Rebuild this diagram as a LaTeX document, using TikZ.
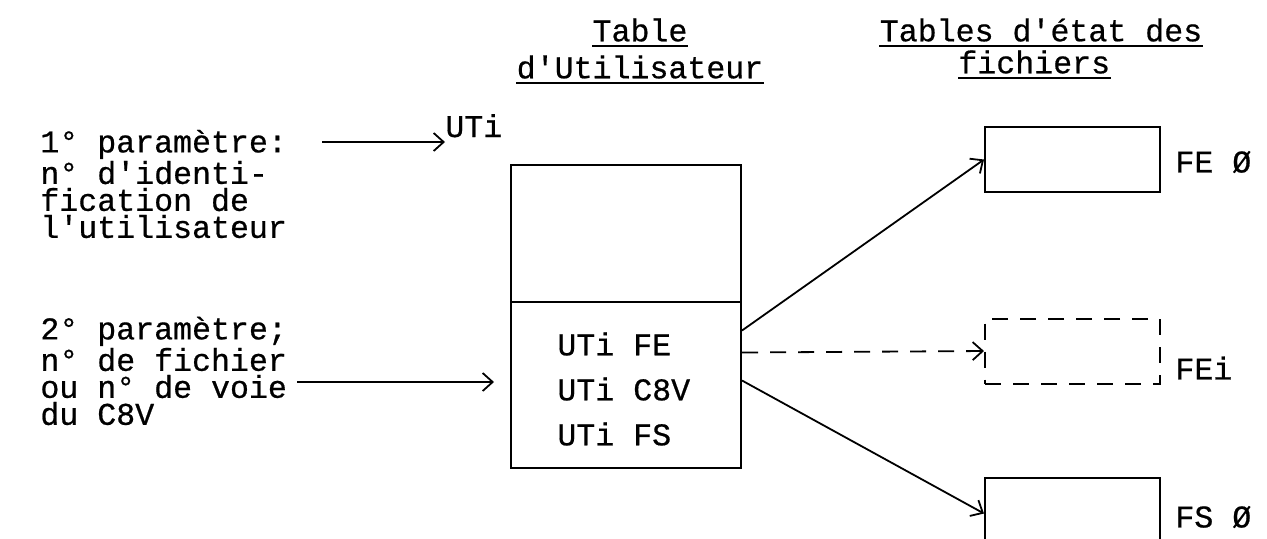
\documentclass[tikz,border=0pt]{standalone}
\usepackage{fontspec}
\setmonofont{Liberation Mono}[UprightFeatures={FakeBold=0.6}]
\usetikzlibrary{arrows.meta}

\begin{document}
\begin{tikzpicture}[x=0.5pt, y=-0.5pt,
    font=\ttfamily\fontsize{15.8}{13.5}\selectfont,
    >={Straight Barb[length=5pt,width=9pt]},
    every node/.style={inner sep=0pt},
    tablebox/.style={draw, line width=1pt, minimum width=87.5pt, minimum height=32.5pt},
    link/.style={->, line width=0.9pt},
    uline/.style={line width=1pt}]
  \useasboundingbox (0,0) rectangle (1267,538);
  % headings
  \node (hd1) at (640,30) {Table};
  \node (hd2) at (640,67) {d'Utilisateur};
  \node (hd3) at (1041,30) {Tables d'état des};
  \node[anchor=west] (hd4) at (958,62) {fichiers};
  \draw[uline] ([yshift=-2.5pt]hd1.base west) -- ([yshift=-2.5pt]hd1.base east);
  \draw[uline] ([yshift=-2.5pt]hd2.base west) -- ([yshift=-2.5pt]hd2.base east);
  \draw[uline] ([yshift=-2.5pt]hd3.base west) -- ([yshift=-2.5pt]hd3.base east);
  \draw[uline] ([yshift=-2.5pt]hd4.base west) -- ([yshift=-2.5pt]hd4.base east);
  % parameters
  \node[anchor=west, align=left] (par1) at (40,184) {1° paramètre:\\n° d'identi-\\fication de\\l'utilisateur};
  \node[anchor=west, align=left] (par2) at (40,371) {2° paramètre;\\n° de fichier\\ou n° de voie\\du C8V};
  \node[anchor=base west] (uti) at (445,137) {UTi};
  \coordinate (p1) at (322,142);
  \coordinate (p2) at (297,382);
  \draw[link] (p1) -- (p1 -| uti.west);
  % user table
  \node[draw, line width=1pt, minimum width=115pt, minimum height=151.5pt] (ut) at (626,316.5) {};
  \coordinate (dv) at (0,302);
  \draw[line width=1pt] (ut.west |- dv) -- (ut.east |- dv);
  \node[anchor=west] (row1) at (557,344) {UTi FE};
  \node[anchor=west] (row2) at (557,389) {UTi C8V};
  \node[anchor=west] (row3) at (557,434) {UTi FS};
  \draw[link, shorten >=8pt] (p2) -- (p2 -| ut.west);
  % file state tables
  \node[tablebox] (fe0) at (1072.5,159.5) {};
  \node[tablebox, dash pattern=on 8pt off 6pt] (fei) at (1072.5,351) {};
  \node[tablebox, minimum height=31.5pt] (fs0) at (1072.5,509.5) {};
  \node[anchor=west] (lfe) at (1175,162) {FE Ø};
  \node[anchor=west] (lfei) at (1175,368) {FEi};
  \node[anchor=west] (lfs) at (1175,517) {FS Ø};
  \draw[link] ([yshift=-7pt]ut.east) -- (fe0.west);
  \draw[link, dash pattern=on 8pt off 6pt] ([yshift=-18pt]ut.east) -- (fei.west);
  \draw[link] ([yshift=-32pt]ut.east) -- ([yshift=-2pt]fs0.west);
\end{tikzpicture}
\end{document}
